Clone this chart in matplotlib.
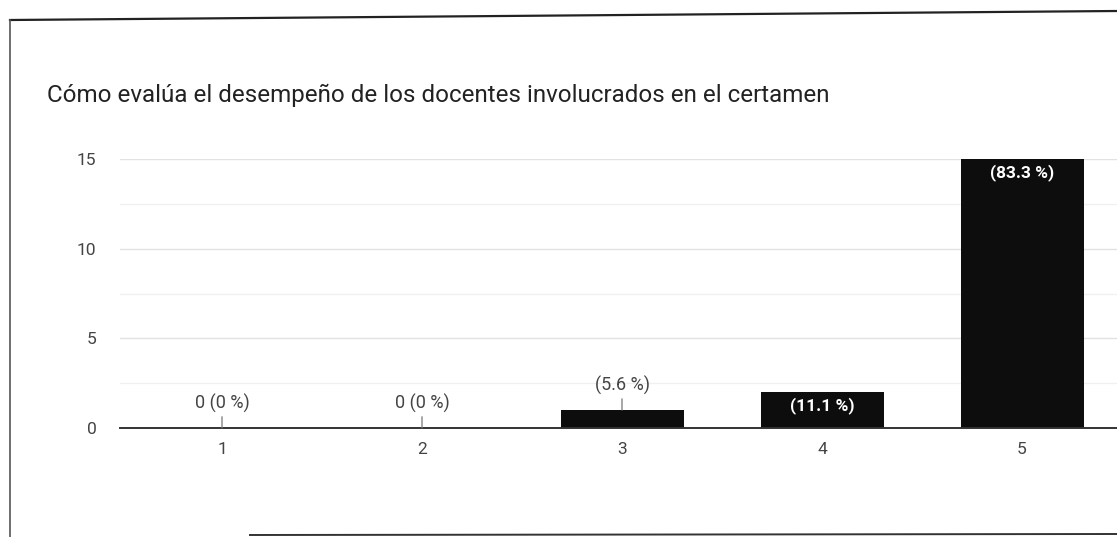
import matplotlib
matplotlib.use("Agg")
import matplotlib.pyplot as plt
from matplotlib.lines import Line2D

INK, MUTE, GRID, MINOR = "#222222", "#444444", "#e2e2e2", "#f0f0f0"
BAR = "#0d0d0d"

plt.rcParams.update({
    "font.family": ["Roboto", "DejaVu Sans"],
    "figure.facecolor": "white", "axes.facecolor": "white",
    "text.color": INK,
})

categories = ["1", "2", "3", "4", "5"]
counts = [0, 0, 1, 2, 15]
percents = ["0 (0 %)", "0 (0 %)", "(5.6 %)", "(11.1 %)", "(83.3 %)"]
inside = [False, False, False, True, True]
y_ticks = [0, 5, 10, 15]

fig = plt.figure(figsize=(11.17, 5.37), dpi=100)
ax = fig.add_axes([120 / 1117, 109 / 537, 997 / 1117, 269 / 537])

xs = list(range(len(categories)))
bars = ax.bar(xs, counts, width=0.615, color=BAR, zorder=3)

for b, v, lab, ins in zip(bars, counts, percents, inside):
    cx = b.get_x() + b.get_width() / 2
    if ins:
        ax.annotate(lab, (cx, v), xytext=(0, -9.5), textcoords="offset points",
                    ha="center", va="center", color="white",
                    fontsize=12.5, fontweight="bold", zorder=5)
    else:
        ax.annotate(lab, (cx, v), xytext=(0, 18), textcoords="offset points",
                    ha="center", va="center", color=MUTE, fontsize=13,
                    arrowprops=dict(arrowstyle="-", color="#777777", lw=0.9,
                                    shrinkA=1, shrinkB=0), zorder=5)

ax.set_xlim(-0.51, 4.475)
ax.set_ylim(0, 15)
ax.set_xticks(xs)
ax.set_xticklabels(categories)
ax.set_yticks(y_ticks)
ax.set_yticks([2.5, 7.5, 12.5], minor=True)
ax.tick_params(axis="both", which="both", length=0)
ax.tick_params(axis="both", labelsize=12.5, labelcolor=MUTE)
ax.tick_params(axis="x", pad=10)
ax.tick_params(axis="y", pad=17)
ax.yaxis.grid(True, which="major", color=GRID, lw=1, zorder=0)
ax.yaxis.grid(True, which="minor", color=MINOR, lw=1, zorder=0)
for s in ["top", "right", "left"]:
    ax.spines[s].set_visible(False)
ax.spines["bottom"].set_color("#333333")
ax.spines["bottom"].set_linewidth(1.4)
ax.spines["bottom"].set_zorder(4)
ax.set_axisbelow(True)

fig.text(47 / 1117, 1 - 95 / 537,
         "Cómo evalúa el desempeño de los docentes involucrados en el certamen",
         fontsize=17.4, color=INK, ha="left", va="center")

# scanned card border
fig.add_artist(Line2D([10 / 1117, 1], [1 - 20 / 537, 1 - 11 / 537],
                      transform=fig.transFigure, color="#222222", lw=1.6))
fig.add_artist(Line2D([10 / 1117, 10 / 1117], [0, 1 - 20 / 537],
                      transform=fig.transFigure, color="#555555", lw=1.2))
fig.add_artist(Line2D([250 / 1117, 1], [2 / 537, 3 / 537],
                      transform=fig.transFigure, color="#333333", lw=1.4))

fig.savefig("out.png", dpi=100)
